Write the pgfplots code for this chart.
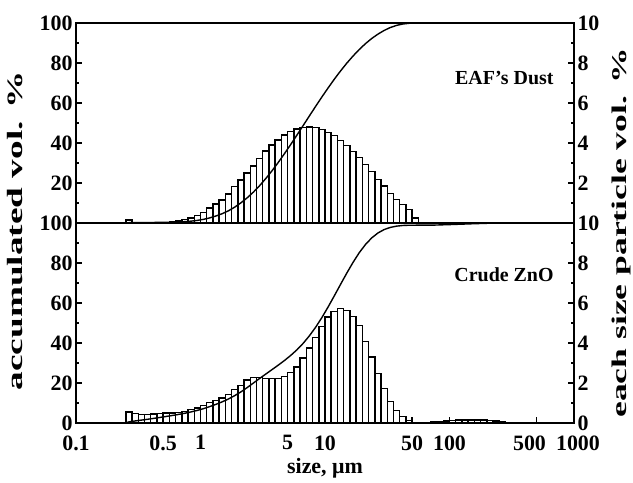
\documentclass[border=0pt]{standalone}
\usepackage{fontspec}
\setmainfont{Liberation Serif}
\newfontfamily\rotfont[FakeStretch=1.7]{Liberation Serif}
\usepackage{pgfplots}
\pgfplotsset{compat=1.18}
\usepackage{pgfplotstable}

\pgfplotstableread{
x y
0.2512 0.15
0.2818 0.03
0.3162 0.03
0.3548 0.03
0.3981 0.03
0.4467 0.03
0.5012 0.03
0.5623 0.08
0.6310 0.10
0.7079 0.17
0.7943 0.25
0.8913 0.37
1.0 0.53
1.122 0.74
1.259 0.95
1.413 1.15
1.585 1.44
1.778 1.83
1.995 2.15
2.239 2.50
2.512 2.85
2.818 3.23
3.162 3.60
3.548 3.90
3.981 4.15
4.467 4.40
5.012 4.57
5.623 4.70
6.310 4.77
7.079 4.80
7.943 4.77
8.913 4.68
10.0 4.53
11.22 4.37
12.59 4.12
14.13 3.87
15.85 3.57
17.78 3.27
19.95 2.93
22.39 2.57
25.12 2.18
28.18 1.85
31.62 1.48
35.48 1.18
39.81 0.93
44.67 0.68
50.12 0.26
56.23 0
}\barsEAF

\pgfplotstableread{
x y
0.2512 0.55
0.2818 0.47
0.3162 0.42
0.3548 0.42
0.3981 0.45
0.4467 0.47
0.5012 0.50
0.5623 0.50
0.6310 0.53
0.7079 0.58
0.7943 0.67
0.8913 0.75
1.0 0.88
1.122 1.03
1.259 1.13
1.413 1.25
1.585 1.42
1.778 1.67
1.995 1.87
2.239 2.15
2.512 2.28
2.818 2.28
3.162 2.23
3.548 2.22
3.981 2.23
4.467 2.33
5.012 2.53
5.623 2.80
6.310 3.25
7.079 3.75
7.943 4.28
8.913 4.83
10.0 5.30
11.22 5.58
12.59 5.72
14.13 5.63
15.85 5.33
17.78 4.87
19.95 4.08
22.39 3.30
25.12 2.47
28.18 1.72
31.62 1.08
35.48 0.63
39.81 0.33
44.67 0.12
50.12 0
56.23 0
63.10 0.03
70.79 0.05
79.43 0.08
89.13 0.10
100.0 0.12
112.2 0.14
125.9 0.15
141.3 0.15
158.5 0.15
177.8 0.14
199.5 0.12
223.9 0.09
251.2 0.06
281.8 0.03
316.2 0
}\barsZnO

\pgfplotstableread{
x y
0.1 0
0.2512 0
0.2661 0.15
0.2985 0.18
0.3350 0.21
0.3758 0.24
0.4217 0.27
0.4732 0.30
0.5309 0.33
0.5957 0.41
0.6683 0.51
0.7499 0.68
0.8414 0.93
0.9441 1.30
1.0593 1.83
1.1885 2.57
1.3335 3.52
1.4962 4.67
1.6788 6.11
1.8836 7.94
2.1135 10.09
2.3714 12.59
2.6607 15.44
2.9854 18.67
3.3497 22.27
3.7584 26.17
4.2170 30.32
4.7315 34.72
5.3088 39.29
5.9566 43.99
6.6834 48.76
7.4989 53.56
8.4140 58.33
9.4406 63.01
10.593 67.54
11.885 71.91
13.335 76.03
14.962 79.90
16.788 83.47
18.836 86.74
21.135 89.67
23.714 92.24
26.607 94.42
29.854 96.27
33.497 97.75
37.584 98.80
42.170 99.50
47.315 99.85
53.088 100
1000 100
}\cumEAF

\pgfplotstableread{
x y
0.1 0
0.2512 0
0.2661 0.55
0.2985 1.02
0.3350 1.44
0.3758 1.86
0.4217 2.31
0.4732 2.78
0.5309 3.28
0.5957 3.78
0.6683 4.31
0.7499 4.89
0.8414 5.56
0.9441 6.31
1.0593 7.19
1.1885 8.22
1.3335 9.35
1.4962 10.60
1.6788 12.02
1.8836 13.69
2.1135 15.56
2.3714 17.71
2.6607 19.99
2.9854 22.27
3.3497 24.50
3.7584 26.72
4.2170 28.95
4.7315 31.28
5.3088 33.81
5.9566 36.61
6.6834 39.86
7.4989 43.61
8.4140 47.89
9.4406 52.72
10.593 58.02
11.885 63.60
13.335 69.32
14.962 74.95
16.788 80.28
18.836 85.15
21.135 89.23
23.714 92.53
26.607 95.00
29.854 96.72
33.497 97.80
37.584 98.43
42.170 98.76
47.315 98.88
75 98.95
100 99.20
150 99.60
200 99.85
300 100
1000 100
}\cumZnO

\pgfplotsset{
  myPanel/.style={
    scale only axis, width=498bp, height=200bp,
    anchor=south west,
    xmin=0.1, xmax=1000,
    xminorticks=false,
    tick align=inside,
    major tick length=6bp, minor tick length=3.5bp,
    every tick/.style={line width=1.2bp, black},
    axis line style={line width=1.4bp},
    tick label style={font=\fontsize{22}{24}\selectfont\bfseries},
    xticklabel style={yshift=-9bp},
    /pgf/number format/assume math mode=true,
    clip=false,
  },
  myBarsAx/.style={myPanel,
    ymin=0, ymax=10,
    axis y line*=right, axis x line=none,
    ytick={0,2,4,6,8,10}, minor y tick num=1,
  },
  myCurveAx/.style={myPanel,
    ymin=0, ymax=100,
    ytick={0,20,40,60,80,100}, minor y tick num=1,
    ytick pos=left, xtick pos=bottom,
  },
}

\begin{document}
\begin{tikzpicture}
\useasboundingbox (-76bp,-60bp) rectangle (557bp,423bp);

% ---- bottom panel: Crude ZnO ----
\begin{axis}[xmode=log, myBarsAx, at={(0bp,0bp)}, yticklabels={0,2,4,6,8,10}]
  \addplot[ybar interval=0.78, fill=white, draw=black, line width=1.45bp] table {\barsZnO};
\end{axis}
\begin{axis}[xmode=log, myCurveAx, at={(0bp,0bp)},
  xtick={0.1,0.5,1,5,10,50,100,500,1000},
  xticklabels={0.1,0.5,1,5,10,50,100,{500\kern14bp},{\kern8bp 1000}},
  yticklabels={0,20,40,60,80,100}]
  \addplot[black, line width=1.4bp, no marks] table {\cumZnO};
  \node[anchor=east, font=\fontsize{20}{22}\selectfont\bfseries] at (rel axis cs:0.966,0.74) {Crude ZnO};
\end{axis}

% ---- top panel: EAF's Dust ----
\begin{axis}[xmode=log, myBarsAx, at={(0bp,200bp)}, yticklabels={,2,4,6,8,10}]
  \addplot[ybar interval=0.78, fill=white, draw=black, line width=1.45bp] table {\barsEAF};
\end{axis}
\begin{axis}[xmode=log, myCurveAx, at={(0bp,200bp)}, xtick=\empty,
  yticklabels={,20,40,60,80,100}]
  \addplot[black, line width=1.4bp, no marks] table {\cumEAF};
  \node[anchor=east, font=\fontsize{20}{22}\selectfont\bfseries] at (rel axis cs:0.966,0.725) {EAF’s Dust};
\end{axis}

% axis titles
\node[rotate=90, font=\fontsize{22}{24}\rotfont\bfseries] at (-61bp,192bp) {accumulated vol. \%};
\node[rotate=90, font=\fontsize{21}{24}\rotfont\bfseries] at (545bp,190bp) {each size particle vol. \%};
\node[font=\fontsize{22}{24}\selectfont\bfseries] at (249bp,-45bp) {size, μm};
\end{tikzpicture}
\end{document}
